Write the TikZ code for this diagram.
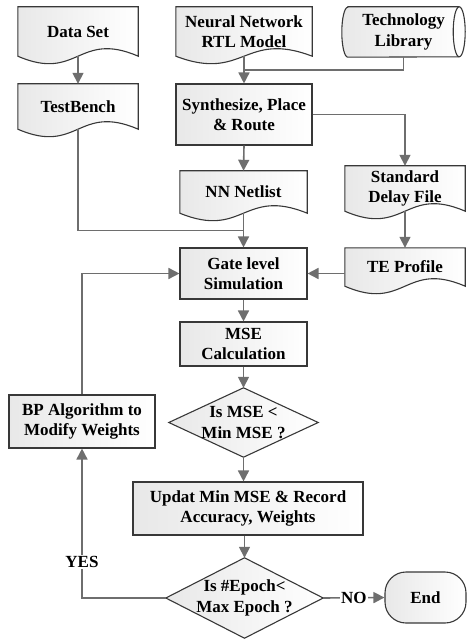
\documentclass[tikz,border=0pt]{standalone}
\usepackage{fontspec}
\setmainfont{Liberation Serif}
\usetikzlibrary{arrows.meta,calc,backgrounds}
\definecolor{conncol}{HTML}{6E6E6E}
\definecolor{bordcol}{HTML}{383838}
\tikzset{
  txt/.style={font=\bfseries\fontsize{17}{20.5}\selectfont, align=center, inner sep=0pt},
  docframe/.style={txt, rectangle, draw=none},
  procbox/.style={txt, rectangle, draw=bordcol, line width=1.1pt, left color=black!9, right color=white},
  shapefill/.style={draw=bordcol, line width=1.1pt, left color=black!9, right color=white},
  link/.style={draw=conncol, line width=1.6pt},
  arrowlink/.style={link, -{Triangle[length=11pt,width=11pt]}},
  lab/.style={txt, fill=white, inner sep=1.5pt}
}
\newcommand\docoutline[1]{\path[shapefill] (#1.north west) -- (#1.north east) -- (#1.south east)
  .. controls ($(#1.south)+(0,-26)$) and ($(#1.south)+(0,26)$) .. (#1.south west) -- cycle;}
\begin{document}
\begin{tikzpicture}[x=1pt,y=-1pt]
\useasboundingbox (0,0) rectangle (466,639);
% document-like shapes
\node[docframe, minimum width=120pt, minimum height=49pt] (ds) at (78,31.5) {Data Set};
\node[docframe, minimum width=136pt, minimum height=49pt] (rtl) at (244,31.5) {Neural Network\\RTL Model};
\node[docframe, minimum width=120pt, minimum height=45pt] (tb) at (78,106.5) {TestBench};
\node[docframe, minimum width=127pt, minimum height=42pt] (nl) at (243.5,192) {NN Netlist};
\node[docframe, minimum width=120pt, minimum height=45pt] (sdf) at (405,188.5) {Standard\\Delay File};
\node[docframe, minimum width=120pt, minimum height=38pt] (te) at (405,267) {TE Profile};
% cylinder
\node[docframe, minimum width=111pt, minimum height=50pt] (tl) at (403.5,32) {Technology\\Library};
% process boxes
\node[procbox, minimum width=136pt, minimum height=61pt] (syn) at (244,114.5) {Synthesize, Place\\\& Route};
\node[procbox, minimum width=127pt, minimum height=51pt] (gl) at (243.5,273.5) {Gate level\\Simulation};
\node[procbox, minimum width=127pt, minimum height=44pt] (mse) at (243.5,344) {MSE\\Calculation};
\node[procbox, minimum width=146pt, minimum height=53pt] (bp) at (82,421.5) {BP Algorithm to\\Modify Weights};
\node[procbox, minimum width=230pt, minimum height=53pt] (up) at (248,508.5) {Updat Min MSE \& Record\\Accuracy, Weights};
\node[procbox, rounded corners=21pt, minimum width=81pt, minimum height=51pt] (end) at (425.5,597.5) {End};
% decisions
\node[docframe, minimum width=149pt, minimum height=69pt] (d1) at (243.5,422.5) {Is MSE <\\Min MSE ?};
\node[docframe, minimum width=157pt, minimum height=80pt] (d2) at (244.5,598) {Is \#Epoch<\\Max Epoch ?};
% outlines
\begin{scope}[on background layer]
\docoutline{ds}
\docoutline{rtl}
\docoutline{tb}
\docoutline{nl}
\docoutline{sdf}
\docoutline{te}
\path[shapefill] (tl.north west) -- (tl.north east)
  arc[start angle=90, end angle=-90, x radius=6pt, y radius=25pt]
  -- (tl.south west)
  arc[start angle=270, end angle=90, x radius=6pt, y radius=25pt] -- cycle;
\draw[draw=bordcol, line width=1.1pt] (tl.north east) arc[start angle=90, end angle=270, x radius=6pt, y radius=25pt];
\path[shapefill] (d1.north) -- (d1.east) -- (d1.south) -- (d1.west) -- cycle;
\path[shapefill] (d2.north) -- (d2.east) -- (d2.south) -- (d2.west) -- cycle;
\end{scope}
% connectors
\coordinate (m1) at ($(rtl.south)!0.5!(syn.north)$);
\coordinate (m2) at ($(nl.south)!0.5!(gl.north)$);
\draw[arrowlink] (ds.south) -- (tb.north);
\draw[link] (tl.south) |- (m1);
\draw[arrowlink] (rtl.south) -- (syn.north);
\draw[arrowlink] (syn.south) -- (nl.north);
\draw[arrowlink] (syn.east) -| (sdf.north);
\draw[link] (tb.south) |- (m2);
\draw[arrowlink] (nl.south) -- (gl.north);
\draw[arrowlink] (sdf.south) -- (te.north);
\draw[arrowlink] (te.west |- gl.east) -- (gl.east);
\draw[arrowlink] (gl.south) -- (mse.north);
\draw[arrowlink] (mse.south) -- (d1.north);
\draw[arrowlink] (d1.south) -- (d1.south |- up.north);
\draw[arrowlink] (up.south -| d2.north) -- (d2.north);
\draw[arrowlink] (bp.north) |- (gl.west);
\draw[arrowlink] (d2.west) -| node[lab, pos=0.62] {YES} (bp.south);
\draw[arrowlink] (d2.east) -- node[lab] {NO} (end.west);
\end{tikzpicture}
\end{document}
